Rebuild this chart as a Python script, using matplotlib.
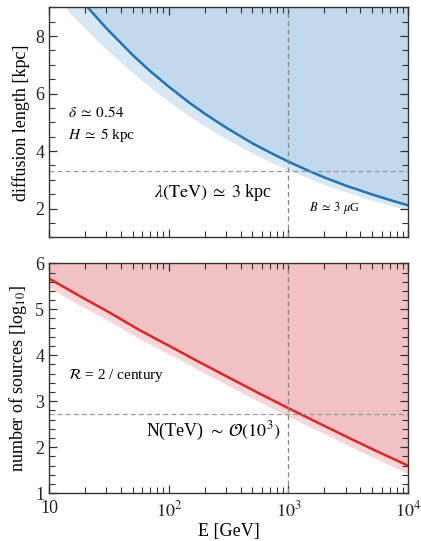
import numpy as np
import matplotlib
matplotlib.use("Agg")
import matplotlib.pyplot as plt
from matplotlib.ticker import MultipleLocator, LogLocator, FixedLocator, NullFormatter

plt.rcParams['font.family'] = ['Liberation Serif', 'DejaVu Serif']
plt.rcParams['mathtext.fontset'] = 'stix'

# diffusion length vs energy
E_lam = [10, 15, 20, 30, 50, 70, 100, 150, 200, 300, 500, 700, 1000, 1500, 2000, 3000, 5000, 7000, 10000]
lam = [10.71, 9.74, 9.10, 8.28, 7.34, 6.78, 6.24, 5.67, 5.30, 4.82, 4.27, 3.95, 3.63, 3.30, 3.08, 2.80, 2.49, 2.30, 2.11]
lam_low = [9.60, 8.80, 8.26, 7.55, 6.72, 6.22, 5.72, 5.20, 4.87, 4.43, 3.93, 3.63, 3.34, 3.04, 2.83, 2.58, 2.29, 2.12, 1.94]
lam_tev = 3.3

# log10 number of sources vs energy
E_n = [10, 18, 32, 56, 100, 178, 316, 562, 1000, 1778, 3162, 5623, 10000]
nsrc = [5.67, 5.29, 4.93, 4.56, 4.21, 3.86, 3.52, 3.18, 2.85, 2.53, 2.21, 1.90, 1.60]
nsrc_low = [5.47, 5.09, 4.74, 4.37, 4.03, 3.68, 3.34, 3.00, 2.67, 2.36, 2.04, 1.73, 1.43]
n_tev = 2.72

fig = plt.figure(figsize=(4.21, 5.41), dpi=100)
ax1 = fig.add_axes([0.1164, 0.5614, 0.853, 0.4251])
ax2 = fig.add_axes([0.1164, 0.0882, 0.853, 0.4251])

for ax in (ax1, ax2):
    ax.set_xscale('log')
    ax.set_xlim(10, 1e4)

# top panel
ax1.fill_between(E_lam, lam, 20, color='#c2d8ec', lw=0)
ax1.fill_between(E_lam, lam_low, lam, color='#d8e7f4', lw=0)
ax1.plot(E_lam, lam, color='#2273b5', lw=1.8)
ax1.axvline(1000, color='#888888', ls=(0, (4, 2.5)), lw=0.9)
ax1.axhline(lam_tev, color='#999999', ls=(0, (4, 2.5)), lw=0.9)
ax1.text(14.4, 5.35, r'$\delta\;\simeq\;0.54$', fontsize=11, va='center')
ax1.text(14.4, 4.55, r'$H\;\simeq\;5$ kpc', fontsize=11, va='center')
ax1.text(235, 2.57, r'$\lambda(\mathrm{TeV})\;\simeq\;3$ kpc', fontsize=13, ha='center', va='center')
ax1.text(2450, 2.02, r'$B\;\simeq\;3\ \mu$G', fontsize=9, ha='center', va='center')
ax1.set_ylim(1, 9)
ax1.set_ylabel('diffusion length [kpc]', fontsize=13, labelpad=4)
ax1.yaxis.set_major_locator(FixedLocator([2, 4, 6, 8]))
ax1.yaxis.set_minor_locator(MultipleLocator(0.5))

# bottom panel
ax2.fill_between(E_n, nsrc, 10, color='#f2c1c3', lw=0)
ax2.fill_between(E_n, nsrc_low, nsrc, color='#f8d5d6', lw=0)
ax2.plot(E_n, nsrc, color='#d9272a', lw=1.8)
ax2.axvline(1000, color='#888888', ls=(0, (4, 2.5)), lw=0.9)
ax2.axhline(n_tev, color='#999999', ls=(0, (4, 2.5)), lw=0.9)
ax2.text(14.4, 3.57, r'$\mathcal{R}$ = 2 / century', fontsize=11, va='center')
ax2.text(235, 2.34, r'N(TeV) $\sim\;\mathcal{O}(10^3)$', fontsize=13, ha='center', va='center')
ax2.set_ylim(1, 6)
ax2.set_ylabel(r'number of sources [log$_{10}$]', fontsize=13, labelpad=4)
ax2.set_xlabel('E [GeV]', fontsize=13, labelpad=2)
ax2.yaxis.set_major_locator(MultipleLocator(1))
ax2.yaxis.set_minor_locator(MultipleLocator(0.2))

for ax in (ax1, ax2):
    ax.xaxis.set_major_locator(FixedLocator([10, 100, 1000, 10000]))
    ax.xaxis.set_minor_locator(LogLocator(base=10, subs=np.arange(2, 10)))
    ax.xaxis.set_minor_formatter(NullFormatter())
    ax.tick_params(which='both', direction='in', top=True, right=True, colors='#333333', labelcolor='#222222')
    ax.tick_params(which='major', length=6, width=0.9, labelsize=13)
    ax.tick_params(which='minor', length=4, width=0.8)
    for s in ax.spines.values():
        s.set_color('#333333')
        s.set_linewidth(1.0)

ax1.xaxis.set_major_formatter(NullFormatter())
ax2.set_xticklabels(['10', r'$10^2$', r'$10^3$', r'$10^4$'])
ax2.tick_params(axis='x', which='major', pad=5)

fig.savefig('out.png', dpi=100)
